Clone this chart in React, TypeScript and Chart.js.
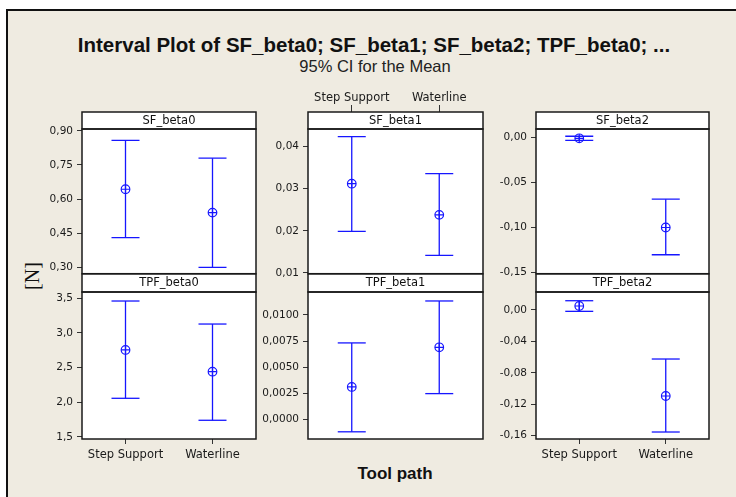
import React, { useEffect, useRef } from 'react';
import { Chart, registerables } from 'chart.js';
Chart.register(...registerables);

// ---------------- data ----------------
const categories = ['Step Support', 'Waterline'];
const panelNames = ['SF_beta0', 'SF_beta1', 'SF_beta2', 'TPF_beta0', 'TPF_beta1', 'TPF_beta2'];
const meanValues = [
  [0.643, 0.540],
  [0.0312, 0.0238],
  [-0.0007, -0.100],
  [2.755, 2.442],
  [0.0031, 0.0069],
  [0.0051, -0.1095],
];
const lowerCI = [
  [0.430, 0.298],
  [0.0199, 0.0142],
  [-0.0029, -0.1303],
  [2.058, 1.741],
  [-0.0012, 0.00246],
  [-0.0017, -0.1553],
];
const upperCI = [
  [0.859, 0.780],
  [0.0424, 0.0336],
  [0.0016, -0.0684],
  [3.461, 3.129],
  [0.00732, 0.01134],
  [0.0118, -0.0624],
];
const yTickValues = [
  [0.30, 0.45, 0.60, 0.75, 0.90],
  [0.01, 0.02, 0.03, 0.04],
  [-0.15, -0.10, -0.05, 0.00],
  [1.5, 2.0, 2.5, 3.0, 3.5],
  [0, 0.0025, 0.005, 0.0075, 0.01],
  [-0.16, -0.12, -0.08, -0.04, 0],
];
const tickDecimals = [2, 2, 2, 1, 4, 2];
const yAxisMin = [0.2705, 0.00983, -0.1514, 1.471, -0.00189, -0.1642];
const yAxisMax = [0.9088, 0.04419, 0.00967, 3.591, 0.0122, 0.0229];

// ---------------- layout ----------------
const COL_LEFT = [82, 308, 536];
const COL_RIGHT = [256, 483, 709];
const AXIS_W = 52;
const PAD_R = 3;
const BLUE = 'rgb(22,22,255)';
const FONT = 'DejaVu Sans';

function Panel({ i }: { i: number }) {
  const ref = useRef<HTMLCanvasElement>(null);
  const row = Math.floor(i / 3);
  const col = i % 3;
  const left = COL_LEFT[col] - AXIS_W;
  const width = COL_RIGHT[col] - COL_LEFT[col] + AXIS_W + PAD_R;
  const top = row === 0 ? 85 : 272;
  const height = row === 0 ? 199 : 192;
  const headerH = row === 0 ? 17 : 18;
  const showBottom = row === 1 && col !== 1;
  const showTop = row === 0 && col === 1;

  useEffect(() => {
    if (!ref.current) return;
    const xs = categories.map((_, j) => j + 1);
    const datasets: any[] = [];
    xs.forEach((x, j) => {
      datasets.push({
        data: [{ x, y: lowerCI[i][j] }, { x, y: upperCI[i][j] }],
        showLine: true,
        borderColor: BLUE,
        borderWidth: 1.3,
        pointRadius: 0,
      });
    });
    datasets.push({
      data: xs.flatMap((x, j) => [{ x, y: lowerCI[i][j] }, { x, y: upperCI[i][j] }]),
      pointStyle: 'line',
      pointRadius: 14,
      pointBorderColor: BLUE,
      pointBorderWidth: 1.3,
      showLine: false,
    });
    datasets.push({
      data: xs.map((x, j) => ({ x, y: meanValues[i][j] })),
      pointStyle: 'circle',
      pointRadius: 4.3,
      pointBorderColor: BLUE,
      pointBackgroundColor: 'rgba(255,255,255,0)',
      pointBorderWidth: 1.2,
      showLine: false,
    });
    datasets.push({
      data: xs.map((x, j) => ({ x, y: meanValues[i][j] })),
      pointStyle: 'cross',
      pointRadius: 4.3,
      pointBorderColor: BLUE,
      pointBorderWidth: 1.2,
      showLine: false,
    });

    const framePlugin = {
      id: 'frame' + i,
      beforeDraw(chart: any) {
        const { ctx, chartArea: a } = chart;
        ctx.save();
        ctx.fillStyle = '#ffffff';
        ctx.fillRect(a.left, a.top - headerH, a.right - a.left, a.bottom - a.top + headerH);
        ctx.restore();
      },
      afterDraw(chart: any) {
        const { ctx, chartArea: a } = chart;
        ctx.save();
        ctx.fillStyle = '#ffffff';
        ctx.fillRect(a.left, a.top - headerH, a.right - a.left, headerH);
        ctx.strokeStyle = '#1a1a1a';
        ctx.lineWidth = 1.5;
        ctx.strokeRect(a.left, a.top, a.right - a.left, a.bottom - a.top);
        ctx.strokeRect(a.left, a.top - headerH, a.right - a.left, headerH);
        ctx.fillStyle = '#111';
        ctx.font = `11.5px "${FONT}"`;
        ctx.textAlign = 'center';
        ctx.textBaseline = 'middle';
        ctx.fillText(panelNames[i], (a.left + a.right) / 2, a.top - headerH / 2 + 0.5);
        ctx.restore();
      },
    };

    const chart = new Chart(ref.current, {
      type: 'scatter',
      data: { datasets },
      options: {
        animation: false,
        responsive: false,
        maintainAspectRatio: false,
        devicePixelRatio: 1,
        events: [],
        layout: {
          autoPadding: false,
          padding: {
            top: showTop ? 0 : row === 0 ? 44 : 20,
            bottom: row === 0 ? 10 : showBottom ? 0 : 25,
            left: 0,
            right: PAD_R,
          },
        },
        plugins: { legend: { display: false }, tooltip: { enabled: false }, title: { display: false } },
        scales: {
          x: {
            type: 'linear',
            min: 0.5,
            max: 2.5,
            display: showBottom || showTop,
            position: showTop ? 'top' : 'bottom',
            afterBuildTicks: (s: any) => {
              s.ticks = xs.map((v) => ({ value: v }));
            },
            afterFit: (s: any) => {
              s.height = showTop ? 44 : showBottom ? 25 : 0;
            },
            ticks: {
              callback: (v: any) => categories[Number(v) - 1] ?? '',
              font: { family: FONT, size: 11.5 },
              color: '#1a1a1a',
              padding: showTop ? 0 : 4,
              maxRotation: 0,
              autoSkip: false,
            },
            grid: { drawOnChartArea: false, drawTicks: true, tickLength: showTop ? 24 : 5, color: '#333', lineWidth: 1 },
            border: { display: false },
          },
          y: {
            type: 'linear',
            min: yAxisMin[i],
            max: yAxisMax[i],
            afterBuildTicks: (s: any) => {
              s.ticks = yTickValues[i].map((v) => ({ value: v }));
            },
            afterFit: (s: any) => {
              s.width = AXIS_W;
            },
            ticks: {
              callback: (v: any) => Number(v).toFixed(tickDecimals[i]).replace('.', ','),
              font: { family: FONT, size: 10.5 },
              color: '#1a1a1a',
              padding: 4,
            },
            grid: { drawOnChartArea: false, drawTicks: true, tickLength: 5, color: '#333', lineWidth: 1 },
            border: { display: false },
          },
        },
      } as any,
      plugins: [framePlugin],
    });
    return () => chart.destroy();
  }, []);

  return (
    <canvas
      ref={ref}
      width={width}
      height={height}
      style={{ position: 'absolute', left, top, width, height }}
    />
  );
}

export default function App() {
  return (
    <div
      style={{
        position: 'fixed',
        left: 0,
        top: 0,
        width: 736,
        height: 497,
        background: '#ffffff',
        overflow: 'hidden',
      }}
    >
      <div
        style={{
          position: 'absolute',
          left: 6,
          top: 9,
          width: 740,
          height: 500,
          background: '#EFEBE1',
          borderLeft: '2px solid #111',
          borderTop: '2px solid #111',
        }}
      />
      <div
        style={{
          position: 'absolute',
          left: 74,
          top: 34.6,
          width: 600,
          textAlign: 'center',
          fontFamily: '"Liberation Sans"',
          fontWeight: 'bold',
          fontSize: 20.5,
          lineHeight: '20.5px',
          color: '#111',
          whiteSpace: 'nowrap',
        }}
      >
        Interval Plot of SF_beta0; SF_beta1; SF_beta2; TPF_beta0; ...
      </div>
      <div
        style={{
          position: 'absolute',
          left: 175,
          top: 57.7,
          width: 400,
          textAlign: 'center',
          fontFamily: '"Liberation Sans"',
          fontSize: 16.5,
          lineHeight: '16.5px',
          color: '#222',
          whiteSpace: 'nowrap',
        }}
      >
        95% CI for the Mean
      </div>
      <div
        style={{
          position: 'absolute',
          left: 32,
          top: 276,
          transform: 'translate(-50%, -50%) rotate(-90deg)',
          fontFamily: '"Liberation Serif"',
          fontSize: 20,
          lineHeight: '20px',
          color: '#111',
          whiteSpace: 'nowrap',
        }}
      >
        [N]
      </div>
      <div
        style={{
          position: 'absolute',
          left: 295,
          top: 464.6,
          width: 200,
          textAlign: 'center',
          fontFamily: '"Liberation Sans"',
          fontWeight: 'bold',
          fontSize: 17,
          lineHeight: '17px',
          color: '#111',
          whiteSpace: 'nowrap',
        }}
      >
        Tool path
      </div>
      {panelNames.map((_, i) => (
        <Panel key={i} i={i} />
      ))}
    </div>
  );
}
